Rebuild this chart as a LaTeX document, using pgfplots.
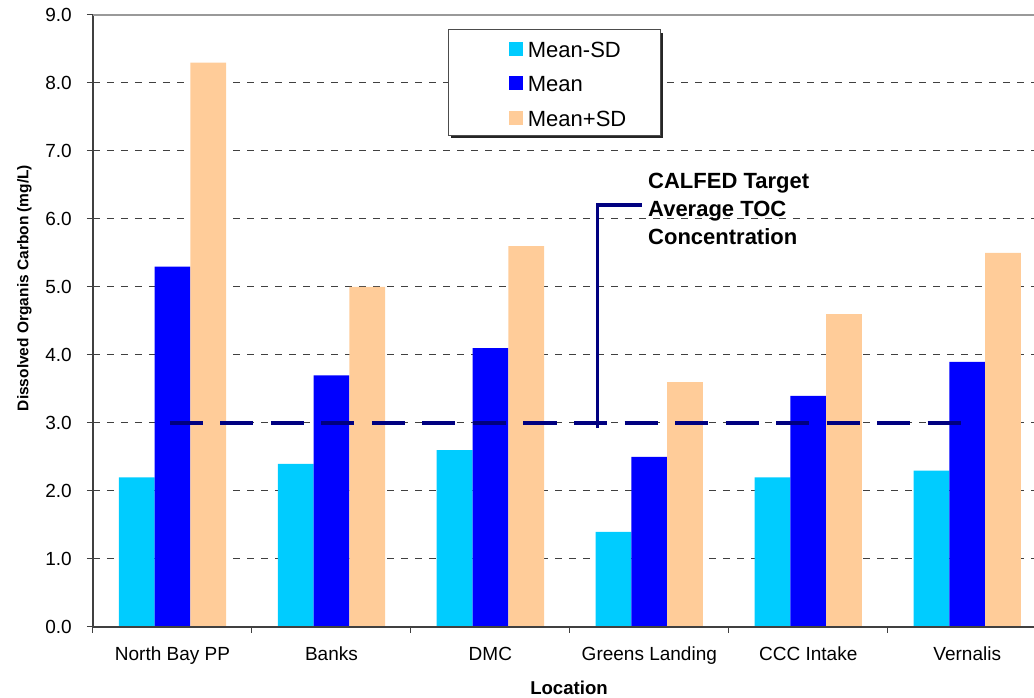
\documentclass[border=0pt]{standalone}
\usepackage{fontspec}
\setmainfont{Liberation Sans}
\usepackage{pgfplots}
\pgfplotsset{compat=1.18}
\definecolor{cmsd}{HTML}{00CCFF}
\definecolor{cmean}{HTML}{0000FF}
\definecolor{cpsd}{HTML}{FFCC99}
\definecolor{navy}{HTML}{000080}
\newcommand\fs[1]{\fontsize{#1}{#1}\selectfont}
\begin{document}
\begin{tikzpicture}
\begin{axis}[
  at={(0pt,0pt)}, anchor=south west,
  scale only axis, width=941pt, height=612pt,
  xmin=-0.5, xmax=5.42, ymin=0, ymax=9,
  axis line style={draw=none},
  xtick={-0.5,0.5,...,4.5}, xticklabels={},
  extra x ticks={0,1,2,3,4,5},
  extra x tick labels={North Bay PP, Banks, DMC, Greens Landing, CCC Intake, Vernalis},
  extra x tick style={major tick length=0pt},
  ytick={0,1,...,9},
  xtick pos=bottom, ytick pos=left,
  tick align=outside, major tick length=6pt,
  tick style={black!75, line width=1pt},
  ymajorgrids,
  major grid style={black!75, line width=1pt, dash pattern=on 7pt off 7pt},
  yticklabel style={font=\fs{19}, anchor=east, inner sep=0pt, xshift=-15pt},
  xticklabel style={font=\fs{19}, anchor=north, inner sep=0pt, yshift=-20pt},
  /pgf/number format/.cd, fixed, fixed zerofill, precision=1, assume math mode=true, /pgfplots/.cd,
  legend style={at={(0.4421,0.9726)}, anchor=north west, draw=none, fill=none,
    inner sep=0pt, font=\fs{22}, row sep=0pt,
    nodes={inner sep=0pt, text height=25.15pt, text depth=9.35pt}},
  legend cell align=left,
  after end axis/.code={
    \draw[black!75, line width=1.5pt] (rel axis cs:0,1) -- (rel axis cs:0,0) -- (rel axis cs:1,0);
    \draw[black!40, line width=1.5pt] (rel axis cs:0,1) -- (rel axis cs:1,1);
  },
]
\addplot[ybar, bar width=0.225, bar shift=-0.225, fill=cmsd, draw=none,
  legend image code/.code={\fill[cmsd] (0pt,-6.45pt) rectangle (13.7pt,7.25pt); \path (18.7pt,0pt);}]
  coordinates {(0,2.2) (1,2.4) (2,2.6) (3,1.4) (4,2.2) (5,2.3)};
\addplot[ybar, bar width=0.225, bar shift=0, fill=cmean, draw=none,
  legend image code/.code={\fill[cmean] (0pt,-6.45pt) rectangle (13.7pt,7.25pt); \path (18.7pt,0pt);}]
  coordinates {(0,5.3) (1,3.7) (2,4.1) (3,2.5) (4,3.4) (5,3.9)};
\addplot[ybar, bar width=0.225, bar shift=0.225, fill=cpsd, draw=none,
  legend image code/.code={\fill[cpsd] (0pt,-6.45pt) rectangle (13.7pt,7.25pt); \path (18.7pt,0pt);}]
  coordinates {(0,8.3) (1,5.0) (2,5.6) (3,3.6) (4,4.6) (5,5.5)};
\addplot[navy, line width=4pt, dash pattern=on 33pt off 17.5pt, forget plot]
  coordinates {(-0.0156,3) (5.0175,3)};
\draw[navy, line width=3.5pt, line join=miter] (axis cs:2.675,2.926) -- (axis cs:2.675,6.206) -- (axis cs:2.954,6.206);
\fill[black!85] ([xshift=3pt,yshift=-3pt]rel axis cs:0.3773,0.8039) rectangle ([xshift=3pt,yshift=-3pt]rel axis cs:0.6026,0.9755);
\filldraw[fill=white, draw=black!70, line width=1pt] (rel axis cs:0.3773,0.8039) rectangle (rel axis cs:0.6026,0.9755);
\legend{Mean-SD, Mean, Mean+SD}
\end{axis}
\node[font=\bfseries\fs{18.6}, anchor=base, inner sep=0pt] at (476pt,-67.7pt) {Location};
\node[font=\bfseries\fs{15.5}, rotate=90, anchor=base, inner sep=0pt] at (-64.7pt,339pt) {Dissolved Organis Carbon (mg/L)};
\node[font=\bfseries\fs{22}, anchor=base west, inner sep=0pt] at (555pt,438pt) {CALFED Target};
\node[font=\bfseries\fs{22}, anchor=base west, inner sep=0pt] at (555pt,410pt) {Average TOC};
\node[font=\bfseries\fs{22}, anchor=base west, inner sep=0pt] at (555pt,382pt) {Concentration};
\pgfresetboundingbox
\useasboundingbox (-93pt,-71pt) rectangle (941pt,627pt);
\end{tikzpicture}
\end{document}
